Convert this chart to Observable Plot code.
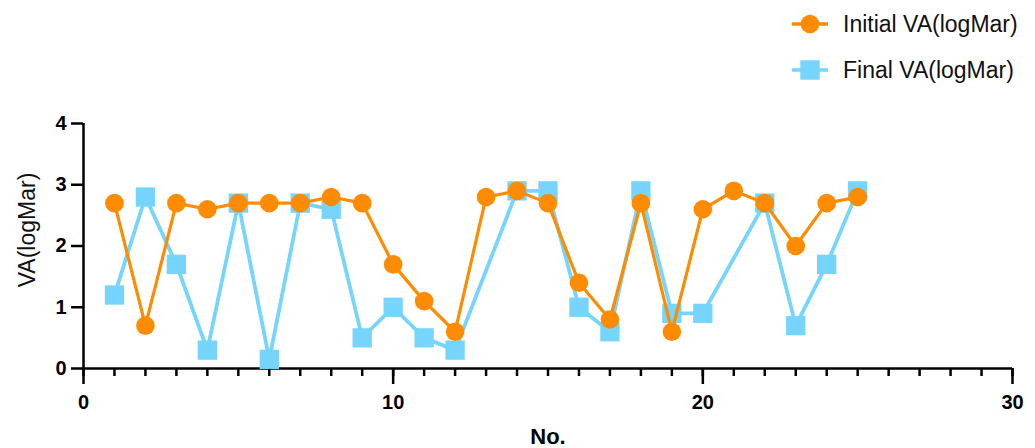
<!DOCTYPE html>
<html>
<head>
<meta charset="utf-8">
<script src="https://cdn.jsdelivr.net/npm/d3@7"></script>
<script src="https://cdn.jsdelivr.net/npm/@observablehq/plot@0.6"></script>
<style>
  html, body { margin: 0; padding: 0; background: #fff; }
  body { width: 1035px; height: 448px; overflow: hidden; font-family: "Liberation Sans", Arial, sans-serif; }
  #legend { position: relative; width: 1035px; height: 100px; }
  .item { position: absolute; left: 791px; height: 30px; display: flex; align-items: center; }
  .item span { margin-left: 14px; font-size: 23px; color: #111; }
</style>
</head>
<body>
<div id="legend"></div>
<div id="chart"></div>
<script>
const patientNo = [1,2,3,4,5,6,7,8,9,10,11,12,13,14,15,16,17,18,19,20,21,22,23,24,25];
const initialVA = [2.7,0.7,2.7,2.6,2.7,2.7,2.7,2.8,2.7,1.7,1.1,0.6,2.8,2.9,2.7,1.4,0.8,2.7,0.6,2.6,2.9,2.7,2.0,2.7,2.8];
const finalVA   = [1.2,2.8,1.7,0.3,2.7,0.15,2.7,2.6,0.5,1.0,0.5,0.3,null,2.9,2.9,1.0,0.6,2.9,0.9,0.9,null,2.7,0.7,1.7,2.9];
const seriesNames = ["Initial VA(logMar)", "Final VA(logMar)"];
const seriesColors = ["#FF8C00", "#76D5FC"];
const xTicksMajor = [0, 10, 20, 30];
const yTicks = [0, 1, 2, 3, 4];

const initialData = patientNo.map((n, i) => ({no: n, va: initialVA[i]}));
const finalData = patientNo.map((n, i) => ({no: n, va: finalVA[i]})).filter(d => d.va != null);

// Legend
const legend = document.getElementById("legend");
[[24, "circle"], [70, "square"]].forEach(([cy, shape], i) => {
  const div = document.createElement("div");
  div.className = "item";
  div.style.top = (cy - 15) + "px";
  const c = seriesColors[i];
  const sym = shape === "circle"
    ? `<circle cx="19" cy="15" r="9.3" fill="${c}"/>`
    : `<rect x="9.3" y="5.3" width="19.4" height="19.4" fill="${c}"/>`;
  div.innerHTML = `<svg width="38" height="30"><line x1="1" x2="37" y1="15" y2="15" stroke="${c}" stroke-width="3.5"/>${sym}</svg><span>${seriesNames[i]}</span>`;
  legend.appendChild(div);
});

const font = "Liberation Sans, Arial, sans-serif";
const chart = Plot.plot({
  width: 1035,
  height: 348,
  marginLeft: 83,
  marginRight: 23,
  marginTop: 23,
  marginBottom: 80,
  style: {fontFamily: font, background: "white", overflow: "visible"},
  x: {domain: [0, 30]},
  y: {domain: [0, 4]},
  marks: [
    // minor x ticks
    Plot.axisX({ticks: d3.range(0, 31), tickSize: 8, tickFormat: () => "", strokeWidth: 2.5, label: null}),
    // major x ticks with labels
    Plot.axisX({ticks: xTicksMajor, tickSize: 16, tickPadding: 10, fontSize: 20, fontWeight: "bold", strokeWidth: 2.5, label: null, tickFormat: d => String(d)}),
    Plot.axisY({ticks: yTicks, tickSize: 12, tickPadding: 5, fontSize: 20, fontWeight: "bold", strokeWidth: 2.5, label: null, tickFormat: d => String(d)}),
    Plot.ruleY([0], {stroke: "black", strokeWidth: 2.5}),
    Plot.ruleX([0], {y1: 0, y2: 4, stroke: "black", strokeWidth: 2.5}),
    Plot.text(["No."], {frameAnchor: "bottom", dy: 68, fontSize: 22, fontWeight: "bold", lineAnchor: "middle", textAnchor: "middle", fill: "black"}),
    Plot.text(["VA(logMar)"], {frameAnchor: "left", dx: -56, dy: -16, rotate: -90, fontSize: 23, lineAnchor: "middle", textAnchor: "middle", fill: "#111"}),
    // Final series
    Plot.line(finalData, {x: "no", y: "va", stroke: seriesColors[1], strokeWidth: 3.8}),
    Plot.dot(finalData, {x: "no", y: "va", symbol: "square", r: 10.9, fill: seriesColors[1]}),
    // Initial series
    Plot.line(initialData, {x: "no", y: "va", stroke: seriesColors[0], strokeWidth: 3.2}),
    Plot.dot(initialData, {x: "no", y: "va", symbol: "circle", r: 9.3, fill: seriesColors[0]})
  ]
});
document.getElementById("chart").appendChild(chart);
</script>
</body>
</html>
